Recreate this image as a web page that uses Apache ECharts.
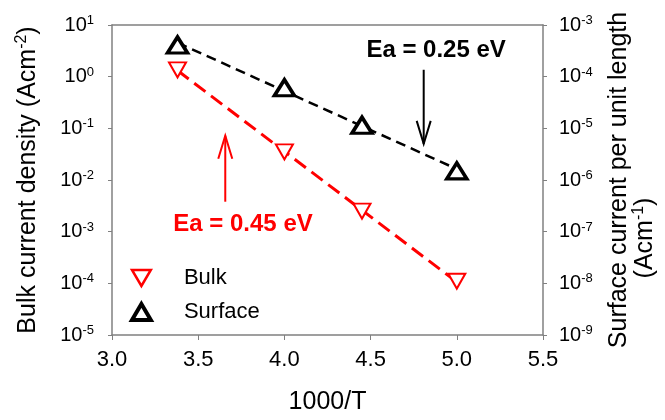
<!DOCTYPE html>
<html>
<head>
<meta charset="utf-8">
<script src="https://cdn.jsdelivr.net/npm/echarts@6/dist/echarts.min.js"></script>
<style>html,body{margin:0;padding:0;background:#fff;}#main{width:665px;height:420px;}</style>
</head>
<body>
<div id="main"></div>
<script>
// ---- data ----
const xValues = [3.38, 4.0, 4.45, 5.0];
const bulkValues = [1.35, 0.035, 0.0025, 1.1e-4];          // A cm^-2 (left axis)
const surfaceValues = [4.1e-4, 6.1e-5, 1.15e-5, 1.5e-6];   // A cm^-1 (right axis)
const xTicks = [3.0, 3.5, 4.0, 4.5, 5.0, 5.5];
const bulkLabel = 'Ea = 0.45 eV';
const surfaceLabel = 'Ea = 0.25 eV';
// annotation anchors in data coords (left axis)
const blackArrow = [[4.808, 1.36], [4.808, 0.05]];
const redArrow = [[3.657, 0.0038], [3.657, 0.072]];
const blackTextPos = [4.88, 3.3];
const redTextPos = [3.76, 0.0014];

const FONT = 'Liberation Sans, Arial, sans-serif';

function logFit(xs, ys) {
  const n = xs.length;
  const ly = ys.map(v => Math.log10(v));
  const mx = xs.reduce((a, b) => a + b, 0) / n;
  const my = ly.reduce((a, b) => a + b, 0) / n;
  let sxy = 0, sxx = 0;
  for (let i = 0; i < n; i++) { sxy += (xs[i] - mx) * (ly[i] - my); sxx += (xs[i] - mx) ** 2; }
  const b = sxy / sxx, a = my - b * mx;
  const x0 = Math.min(...xs), x1 = Math.max(...xs);
  return [[x0, Math.pow(10, a + b * x0)], [x1, Math.pow(10, a + b * x1)]];
}

const bulkPts = xValues.map((x, i) => [x, bulkValues[i]]);
const surfPts = xValues.map((x, i) => [x, surfaceValues[i]]);

const tickRich = {
  b: { fontSize: 20, fontFamily: FONT, color: '#000', lineHeight: 22 },
  s: { fontSize: 13, fontFamily: FONT, color: '#000', lineHeight: 13, verticalAlign: 'top' }
};
const logFmt = v => '{b|10}{s|' + Math.round(Math.log10(v)) + '}';

const axisGray = '#808080';
const downTri = 'path://M0,0 L20,0 L10,17 Z';
const upTri = 'path://M10,0 L20,17 L0,17 Z';

const chart = echarts.init(document.getElementById('main'));
chart.setOption({
  animation: false,
  backgroundColor: '#fff',
  grid: { left: 112, right: 122, top: 25, bottom: 83 },
  legend: {
    orient: 'vertical',
    left: 130, top: 266, padding: 0,
    itemWidth: 19, itemHeight: 16, itemGap: 10,
    data: [
      { name: 'Bulk', icon: downTri, itemStyle: { color: '#fff', borderColor: '#ff0000', borderWidth: 2.5, opacity: 1 } },
      { name: 'Surface', icon: upTri, itemStyle: { color: '#fff', borderColor: '#000', borderWidth: 4, opacity: 1 } }
    ],
    textStyle: { fontSize: 22, fontFamily: FONT, color: '#000', lineHeight: 24, padding: [0, 0, 0, 28] }
  },
  xAxis: [{
    type: 'value', min: 3.0, max: 5.5, interval: 0.5,
    axisLine: { lineStyle: { color: axisGray, width: 1.5 } },
    axisTick: { show: true, length: 5, lineStyle: { color: axisGray } },
    splitLine: { show: false },
    axisLabel: { fontSize: 22, fontFamily: FONT, color: '#000', margin: 14, formatter: v => v.toFixed(1) },
    name: '1000/T', nameLocation: 'middle', nameGap: 55,
    nameTextStyle: { fontSize: 25, fontFamily: FONT, color: '#000' }
  }, {
    type: 'value', position: 'top', min: 3.0, max: 5.5,
    axisLine: { show: true, lineStyle: { color: axisGray, width: 1.5 } },
    axisTick: { show: false }, axisLabel: { show: false }, splitLine: { show: false }
  }],
  yAxis: [{
    type: 'log', logBase: 10, min: 1e-5, max: 10, splitNumber: 6,
    axisLine: { show: true, lineStyle: { color: axisGray, width: 1.5 } },
    axisTick: { show: true, length: 4, lineStyle: { color: axisGray } },
    minorTick: { show: false },
    splitLine: { show: false },
    axisLabel: { margin: 18, formatter: logFmt, rich: tickRich },
    name: 'Bulk current density (Acm{s|-2}{b|)}', nameLocation: 'middle', nameGap: 70,
    nameTextStyle: {
      fontSize: 25, fontFamily: FONT, color: '#000',
      rich: {
        b: { fontSize: 25, fontFamily: FONT, color: '#000', lineHeight: 28 },
        s: { fontSize: 16, fontFamily: FONT, color: '#000', lineHeight: 16, verticalAlign: 'top' }
      }
    }
  }, {
    type: 'log', logBase: 10, min: 1e-9, max: 1e-3, splitNumber: 6, position: 'right',
    axisLine: { show: true, lineStyle: { color: axisGray, width: 1.5 } },
    axisTick: { show: true, length: 4, lineStyle: { color: axisGray } },
    minorTick: { show: false },
    splitLine: { show: false },
    axisLabel: { margin: 16, formatter: logFmt, rich: tickRich },
    name: 'Surface current per unit length', nameLocation: 'middle', nameGap: 64,
    nameTextStyle: { fontSize: 25, fontFamily: FONT, color: '#000', verticalAlign: 'top' }
  }],
  series: [{
    name: 'Bulk fit', type: 'line', xAxisIndex: 0, yAxisIndex: 0,
    data: logFit(xValues, bulkValues), showSymbol: false, silent: true,
    lineStyle: { color: '#ff0000', width: 3, type: [14, 7] }, z: 2
  }, {
    name: 'Surface fit', type: 'line', xAxisIndex: 0, yAxisIndex: 1,
    data: logFit(xValues, surfaceValues), showSymbol: false, silent: true,
    lineStyle: { color: '#000', width: 2.5, type: [10, 6] }, z: 2
  }, {
    name: 'Bulk', type: 'scatter', xAxisIndex: 0, yAxisIndex: 0,
    data: bulkPts, symbol: 'triangle', symbolRotate: 180, symbolSize: [17, 15],
    itemStyle: { color: '#fff', borderColor: '#ff0000', borderWidth: 2, opacity: 1 }, z: 3
  }, {
    name: 'Surface', type: 'scatter', xAxisIndex: 0, yAxisIndex: 1,
    data: surfPts, symbol: 'triangle', symbolSize: [20, 16],
    itemStyle: { color: '#fff', borderColor: '#000', borderWidth: 3.5, opacity: 1 }, z: 3
  }]
});

function px(p) { return chart.convertToPixel({ xAxisIndex: 0, yAxisIndex: 0 }, p); }
function arrow(from, to, color) {
  const a = px(from), b = px(to);
  const dir = b[1] > a[1] ? 1 : -1;
  const headL = 23, headW = 7;
  return [{
    type: 'polyline', shape: { points: [a, b] }, style: { stroke: color, lineWidth: 2, fill: null }, z: 10
  }, {
    type: 'polyline',
    shape: { points: [[b[0] - headW, b[1] - dir * headL], b, [b[0] + headW, b[1] - dir * headL]] },
    style: { stroke: color, lineWidth: 2, fill: null }, z: 10
  }];
}
const bt = px(blackTextPos), rt = px(redTextPos);
chart.setOption({
  graphic: [
    ...arrow(blackArrow[0], blackArrow[1], '#000'),
    ...arrow(redArrow[0], redArrow[1], '#ff0000'),
    { type: 'text', x: bt[0], y: bt[1], z: 10,
      style: { text: surfaceLabel, fontSize: 24, fontWeight: 'bold', fontFamily: FONT, fill: '#000', align: 'center', verticalAlign: 'middle' } },
    { type: 'text', x: rt[0], y: rt[1], z: 10,
      style: { text: bulkLabel, fontSize: 24, fontWeight: 'bold', fontFamily: FONT, fill: '#ff0000', align: 'center', verticalAlign: 'middle' } },
    { type: 'text', x: 645, y: 238, rotation: Math.PI / 2, z: 10,
      style: { text: '(Acm{s|-1}{b|)}', fontSize: 25, fontFamily: FONT, fill: '#000', align: 'center', verticalAlign: 'middle',
        rich: {
          b: { fontSize: 25, fontFamily: FONT, fill: '#000', lineHeight: 28 },
          s: { fontSize: 16, fontFamily: FONT, fill: '#000', lineHeight: 16, verticalAlign: 'top' }
        } } }
  ]
});
</script>
</body>
</html>
